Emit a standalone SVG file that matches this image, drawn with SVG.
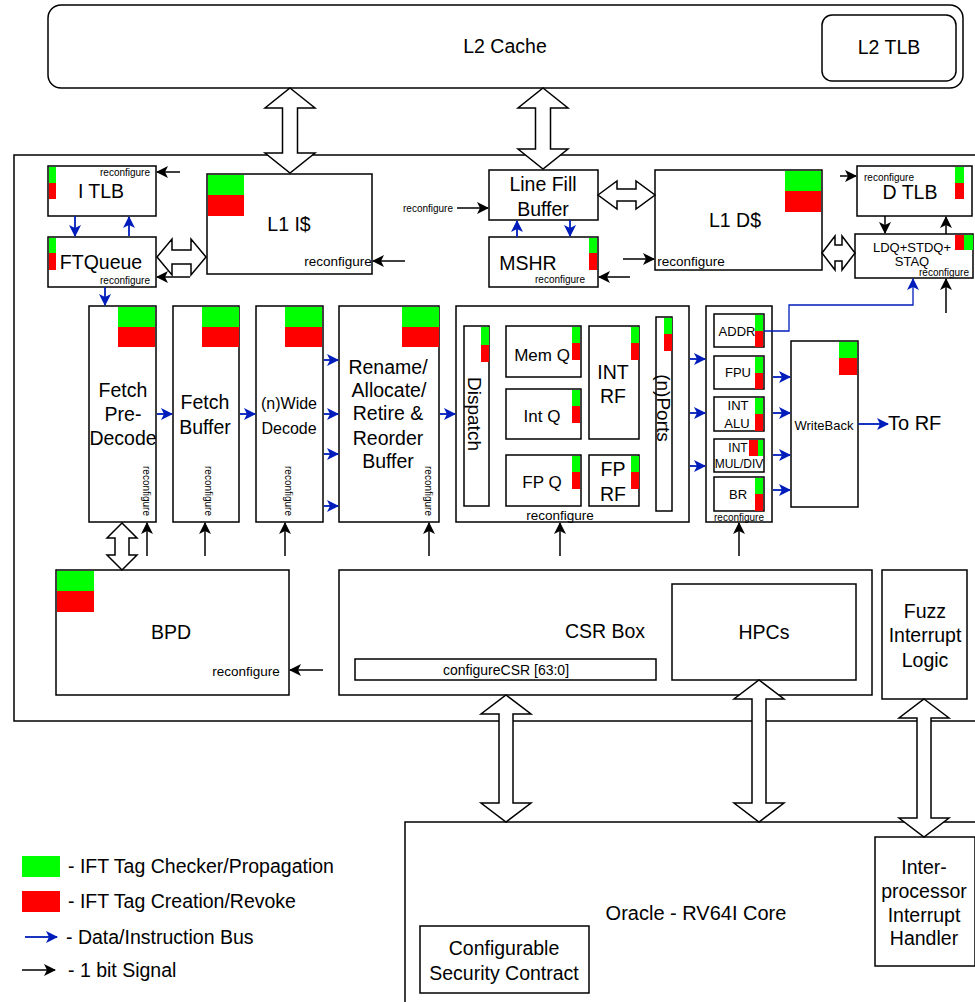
<svg xmlns="http://www.w3.org/2000/svg" width="975" height="1002" viewBox="0 0 975 1002">
<style>
.b{fill:#fff;stroke:#000;stroke-width:1.5}
.g{fill:#00FF00}
.r{fill:#FF0000}
text{font-family:"Liberation Sans",Arial,sans-serif;fill:#000;text-anchor:middle;dominant-baseline:central}
.t17{font-size:19.5px}
.t14{font-size:17px}
.t12{font-size:13px}
.t11{font-size:13.5px}
.t9{font-size:10px}
.bl{fill:none;stroke:#001DBC;stroke-width:1.8}
.bk{fill:none;stroke:#000;stroke-width:1.5}
.da{fill:#fff;stroke:#000;stroke-width:1.5;stroke-linejoin:miter}
</style>
<defs>
<marker id="ab" viewBox="0 0 12 12" refX="11" refY="6" markerWidth="12" markerHeight="12" markerUnits="userSpaceOnUse" orient="auto"><path d="M0,0 L12,6 L0,12 L3,6 z" fill="#001DBC"/></marker>
<marker id="ak" viewBox="0 0 12 12" refX="11" refY="6" markerWidth="12" markerHeight="12" markerUnits="userSpaceOnUse" orient="auto"><path d="M0,0 L12,6 L0,12 L3,6 z" fill="#000"/></marker>
</defs>

<g id="l2cache"><rect class="b" x="48" y="5" width="915" height="83" rx="13"/><text class="t17" x="505" y="46">L2 Cache</text></g>
<g id="l2tlb"><rect class="b" x="822" y="15" width="134" height="66" rx="10"/><text class="t17" x="889" y="47">L2 TLB</text></g>

<g id="chip"><rect class="b" x="14" y="155" width="975" height="566"/></g>

<g id="itlb"><rect class="b" x="48" y="166" width="108" height="50"/><rect class="g" x="49" y="167" width="7" height="16"/><rect class="r" x="49" y="183" width="7" height="16"/><text class="t17" x="101" y="191">I TLB</text><text class="t9" x="125" y="172">reconfigure</text></g>
<g id="ftqueue"><rect class="b" x="48" y="237" width="108" height="50"/><rect class="g" x="49" y="238" width="7" height="15"/><rect class="r" x="49" y="253" width="7" height="17"/><text class="t17" x="101" y="262">FTQueue</text><text class="t9" x="125" y="280">reconfigure</text></g>
<g id="l1i"><rect class="b" x="207" y="174" width="165" height="100"/><rect class="g" x="208" y="175" width="36" height="20"/><rect class="r" x="208" y="195" width="36" height="21"/><text class="t17" x="289" y="224">L1 I$</text><text class="t11" x="338" y="261">reconfigure</text></g>

<g id="lfb"><rect class="b" x="489" y="170" width="109" height="50"/><text class="t17" x="543" y="184">Line Fill</text><text class="t17" x="543" y="209">Buffer</text></g>
<g id="lfbcfg"><text class="t9" x="428" y="208">reconfigure</text></g>
<g id="mshr"><rect class="b" x="489" y="237" width="109" height="50"/><rect class="g" x="589" y="238" width="8" height="15"/><rect class="r" x="589" y="253" width="8" height="17"/><text class="t17" x="528" y="263">MSHR</text><text class="t9" x="560" y="279">reconfigure</text></g>
<g id="l1d"><rect class="b" x="655" y="170" width="167" height="100"/><rect class="g" x="785" y="171" width="36" height="20"/><rect class="r" x="785" y="191" width="36" height="21"/><text class="t17" x="735" y="220">L1 D$</text><text class="t11" x="691" y="261">reconfigure</text></g>
<g id="dtlb"><rect class="b" x="857" y="166" width="115" height="50"/><rect class="g" x="955" y="167" width="9" height="16"/><rect class="r" x="955" y="183" width="9" height="16"/><text class="t17" x="910" y="192">D TLB</text><text class="t9" x="889" y="177">reconfigure</text></g>
<g id="ldq"><rect class="b" x="855" y="234" width="118" height="44"/><rect class="r" x="955" y="235" width="9" height="15"/><rect class="g" x="964" y="235" width="9" height="15"/><text class="t12" x="912" y="247">LDQ+STDQ+</text><text class="t12" x="912" y="261">STAQ</text><text class="t9" x="944" y="272">reconfigure</text></g>

<g id="fetchpre"><rect class="b" x="89" y="306" width="67" height="216"/><rect class="g" x="118" y="307" width="37" height="20"/><rect class="r" x="118" y="327" width="37" height="20"/><text class="t17" x="123" y="390">Fetch</text><text class="t17" x="123" y="414">Pre-</text><text class="t17" x="123" y="438">Decode</text><text class="t9" transform="translate(146,491) rotate(90)">reconfigure</text></g>
<g id="fetchbuf"><rect class="b" x="173" y="306" width="66" height="216"/><rect class="g" x="202" y="307" width="37" height="20"/><rect class="r" x="202" y="327" width="37" height="20"/><text class="t17" x="205" y="402">Fetch</text><text class="t17" x="205" y="427">Buffer</text><text class="t9" transform="translate(208,491) rotate(90)">reconfigure</text></g>
<g id="decode"><rect class="b" x="256" y="306" width="67" height="216"/><rect class="g" x="285" y="307" width="37" height="20"/><rect class="r" x="285" y="327" width="37" height="20"/><text style="font-size:16px" x="289" y="403">(n)Wide</text><text style="font-size:16px" x="289" y="428">Decode</text><text class="t9" transform="translate(288,491) rotate(90)">reconfigure</text></g>
<g id="rename"><rect class="b" x="339" y="306" width="100" height="216"/><rect class="g" x="402" y="307" width="37" height="20"/><rect class="r" x="402" y="327" width="37" height="20"/><text class="t17" x="388" y="367">Rename/</text><text class="t17" x="389" y="390">Allocate/</text><text class="t17" x="388" y="413">Retire &amp;</text><text class="t17" x="388" y="438">Reorder</text><text class="t17" x="388" y="461">Buffer</text><text class="t9" transform="translate(428,491) rotate(90)">reconfigure</text></g>

<g id="issue"><rect class="b" x="456" y="306" width="233" height="216"/><text class="t11" x="560" y="515">reconfigure</text></g>
<g id="dispatch"><rect class="b" x="464" y="326" width="25" height="180"/><rect class="g" x="481" y="327" width="8" height="18"/><rect class="r" x="481" y="345" width="8" height="17"/><text style="font-size:19px" transform="translate(474,414) rotate(90)">Dispatch</text></g>
<g id="memq"><rect class="b" x="506" y="326" width="75" height="51"/><rect class="g" x="572" y="327" width="8" height="16"/><rect class="r" x="572" y="343" width="8" height="17"/><text class="t14" x="542" y="355">Mem Q</text></g>
<g id="intq"><rect class="b" x="506" y="389" width="75" height="50"/><rect class="g" x="572" y="390" width="8" height="16"/><rect class="r" x="572" y="406" width="8" height="17"/><text class="t14" x="542" y="416">Int Q</text></g>
<g id="fpq"><rect class="b" x="506" y="455" width="75" height="51"/><rect class="g" x="572" y="456" width="8" height="16"/><rect class="r" x="572" y="472" width="8" height="17"/><text class="t14" x="542" y="482">FP Q</text></g>
<g id="intrf"><rect class="b" x="589" y="326" width="50" height="113"/><rect class="g" x="631" y="327" width="8" height="16"/><rect class="r" x="631" y="343" width="8" height="17"/><text class="t17" x="613" y="372">INT</text><text class="t17" x="613" y="396">RF</text></g>
<g id="fprf"><rect class="b" x="589" y="455" width="50" height="51"/><rect class="g" x="631" y="456" width="8" height="16"/><rect class="r" x="631" y="472" width="8" height="17"/><text class="t17" x="613" y="469">FP</text><text class="t17" x="613" y="494">RF</text></g>
<g id="ports"><rect class="b" x="656" y="317" width="16" height="194"/><rect class="g" x="664" y="318" width="8" height="16"/><rect class="r" x="664" y="334" width="8" height="17"/><text style="font-size:19px" transform="translate(663,408) rotate(90)">(n)Ports</text></g>

<g id="exec"><rect class="b" x="706" y="306" width="66" height="216"/><text class="t9" x="739" y="517">reconfigure</text></g>
<g id="addr"><rect class="b" x="714" y="314" width="50" height="33"/><rect class="g" x="755" y="315" width="8" height="16"/><rect class="r" x="755" y="331" width="8" height="16"/><text class="t12" x="737" y="331">ADDR</text></g>
<g id="fpu"><rect class="b" x="714" y="356" width="50" height="33"/><rect class="g" x="755" y="357" width="8" height="16"/><rect class="r" x="755" y="373" width="8" height="16"/><text class="t12" x="738" y="372">FPU</text></g>
<g id="intalu"><rect class="b" x="714" y="397" width="50" height="34"/><rect class="g" x="755" y="398" width="8" height="16"/><rect class="r" x="755" y="414" width="8" height="17"/><text class="t12" x="738" y="405">INT</text><text class="t12" x="737" y="423">ALU</text></g>
<g id="intmul"><rect class="b" x="714" y="439" width="50" height="33"/><rect class="r" x="749" y="440" width="9" height="16"/><rect class="g" x="758" y="440" width="5" height="16"/><text style="font-size:12px" x="738" y="448">INT</text><text style="font-size:12px" x="739" y="464">MUL/DIV</text></g>
<g id="br"><rect class="b" x="714" y="477" width="50" height="34"/><rect class="g" x="755" y="478" width="8" height="16"/><rect class="r" x="755" y="494" width="8" height="17"/><text class="t12" x="738" y="494">BR</text></g>
<g id="writeback"><rect class="b" x="791" y="341" width="67" height="166"/><rect class="g" x="839" y="342" width="18" height="16"/><rect class="r" x="839" y="358" width="18" height="17"/><text class="t12" x="824" y="425">WriteBack</text></g>
<g id="torf"><text style="font-size:20px;text-anchor:start" x="888" y="423">To RF</text></g>

<g id="bpd"><rect class="b" x="56" y="570" width="233" height="125"/><rect class="g" x="57" y="571" width="37" height="20"/><rect class="r" x="57" y="591" width="37" height="21"/><text class="t17" x="171" y="632">BPD</text><text class="t11" x="246" y="671">reconfigure</text></g>
<g id="csrbox"><rect class="b" x="339" y="570" width="533" height="125"/><text class="t17" x="605" y="631">CSR Box</text></g>
<g id="configcsr"><rect class="b" x="355" y="659" width="301" height="21"/><text style="font-size:14px" x="506" y="670">configureCSR [63:0]</text></g>
<g id="hpcs"><rect class="b" x="672" y="584" width="184" height="96"/><text class="t17" x="764" y="632">HPCs</text></g>
<g id="fuzz"><rect class="b" x="882" y="570" width="85" height="129"/><text class="t17" x="925" y="611">Fuzz</text><text class="t17" x="925" y="635">Interrupt</text><text class="t17" x="925" y="660">Logic</text></g>

<g id="oracle"><rect class="b" x="405" y="822" width="590" height="200"/><text style="font-size:20px" x="696" y="913">Oracle - RV64I Core</text></g>
<g id="contract"><rect class="b" x="420" y="926" width="169" height="67"/><text class="t17" x="504" y="948">Configurable</text><text class="t17" x="504" y="973">Security Contract</text></g>
<g id="ipih"><rect class="b" x="875" y="837" width="100" height="129"/><text class="t17" x="924" y="867">Inter-</text><text class="t17" x="924" y="891">processor</text><text class="t17" x="924" y="915">Interrupt</text><text class="t17" x="924" y="938">Handler</text></g>

<g id="connectors">
<path class="da" d="M290,88 L315,108 L297.5,108 L297.5,153 L315,153 L290,173 L265,153 L282.5,153 L282.5,108 L265,108 Z"/>
<path class="da" d="M543,88 L568,108 L550.5,108 L550.5,149 L568,149 L543,169 L518,149 L535.5,149 L535.5,108 L518,108 Z"/>
<path class="da" d="M157,257 L172,239 L172,250 L191,250 L191,239 L206,257 L191,275 L191,264 L172,264 L172,275 Z"/>
<path class="da" d="M598,195 L617,181 L617,189 L636,189 L636,181 L655,195 L636,209 L636,201 L617,201 L617,209 Z"/>
<path class="da" d="M822,253 L835,236 L835,245 L842,245 L842,236 L855,253 L842,270 L842,261 L835,261 L835,270 Z"/>
<path class="da" d="M122,523 L137,538 L129,538 L129,555 L137,555 L122,570 L107,555 L115,555 L115,538 L107,538 Z"/>
<path class="da" d="M506,695 L531,714 L513,714 L513,803 L531,803 L506,822 L481,803 L499,803 L499,714 L481,714 Z"/>
<path class="da" d="M759,680 L784,699 L766,699 L766,803 L784,803 L759,822 L734,803 L752,803 L752,699 L734,699 Z"/>
<path class="da" d="M924,699 L949,718 L931,718 L931,818 L949,818 L924,837 L899,818 L917,818 L917,718 L899,718 Z"/>

<path class="bl" marker-end="url(#ab)" d="M75,216 V236"/>
<path class="bl" marker-end="url(#ab)" d="M129,236 V217"/>
<path class="bl" marker-end="url(#ab)" d="M105,287 V305"/>
<path class="bl" marker-end="url(#ab)" d="M517,237 V221"/>
<path class="bl" marker-end="url(#ab)" d="M570,220 V236"/>
<path class="bl" marker-end="url(#ab)" d="M157,414 H172"/>
<path class="bl" marker-end="url(#ab)" d="M240,414 H255"/>
<path class="bl" marker-end="url(#ab)" d="M324,360 H338"/>
<path class="bl" marker-end="url(#ab)" d="M324,414 H338"/>
<path class="bl" marker-end="url(#ab)" d="M324,454 H338"/>
<path class="bl" marker-end="url(#ab)" d="M324,506 H338"/>
<path class="bl" marker-end="url(#ab)" d="M440,414 H455"/>
<path class="bl" marker-end="url(#ab)" d="M690,359 H705"/>
<path class="bl" marker-end="url(#ab)" d="M690,413 H705"/>
<path class="bl" marker-end="url(#ab)" d="M690,466 H705"/>
<path class="bl" marker-end="url(#ab)" d="M773,377 H790"/>
<path class="bl" marker-end="url(#ab)" d="M773,413 H790"/>
<path class="bl" marker-end="url(#ab)" d="M773,455 H790"/>
<path class="bl" marker-end="url(#ab)" d="M773,490 H790"/>
<path class="bl" marker-end="url(#ab)" d="M858,424 H888"/>
<path class="bl" style="stroke-width:1.3" marker-end="url(#ab)" d="M764,331 H789 V305 H913 V279"/>

<path class="bk" marker-end="url(#ak)" d="M180,172 H157"/>
<path class="bk" marker-end="url(#ak)" d="M190,277 H157"/>
<path class="bk" marker-end="url(#ak)" d="M405,261 H373"/>
<path class="bk" marker-end="url(#ak)" d="M457,208 H488"/>
<path class="bk" marker-end="url(#ak)" d="M630,277 H599"/>
<path class="bk" marker-end="url(#ak)" d="M623,259 H654"/>
<path class="bk" marker-end="url(#ak)" d="M840,176 H856"/>
<path class="bk" marker-end="url(#ak)" d="M885,216 V233"/>
<path class="bk" marker-end="url(#ak)" d="M946,234 V217"/>
<path class="bk" marker-end="url(#ak)" d="M946,313 V279"/>
<path class="bk" marker-end="url(#ak)" d="M147,556 V523"/>
<path class="bk" marker-end="url(#ak)" d="M205,556 V523"/>
<path class="bk" marker-end="url(#ak)" d="M285,556 V523"/>
<path class="bk" marker-end="url(#ak)" d="M429,556 V523"/>
<path class="bk" marker-end="url(#ak)" d="M560,556 V523"/>
<path class="bk" marker-end="url(#ak)" d="M739,556 V523"/>
<path class="bk" marker-end="url(#ak)" d="M323,670 H290"/>
</g>

<g id="legend">
<rect class="g" x="22" y="856" width="38" height="21"/>
<text class="t17" x="68" y="866" style="text-anchor:start">- IFT Tag Checker/Propagation</text>
<rect class="r" x="22" y="891" width="38" height="21"/>
<text class="t17" x="68" y="901" style="text-anchor:start">- IFT Tag Creation/Revoke</text>
<path class="bl" marker-end="url(#ab)" d="M25,937 H57"/>
<text class="t17" x="66" y="937" style="text-anchor:start">- Data/Instruction Bus</text>
<path class="bk" marker-end="url(#ak)" d="M22,970 H55"/>
<text class="t17" x="68" y="970" style="text-anchor:start">- 1 bit Signal</text>
</g>
</svg>
